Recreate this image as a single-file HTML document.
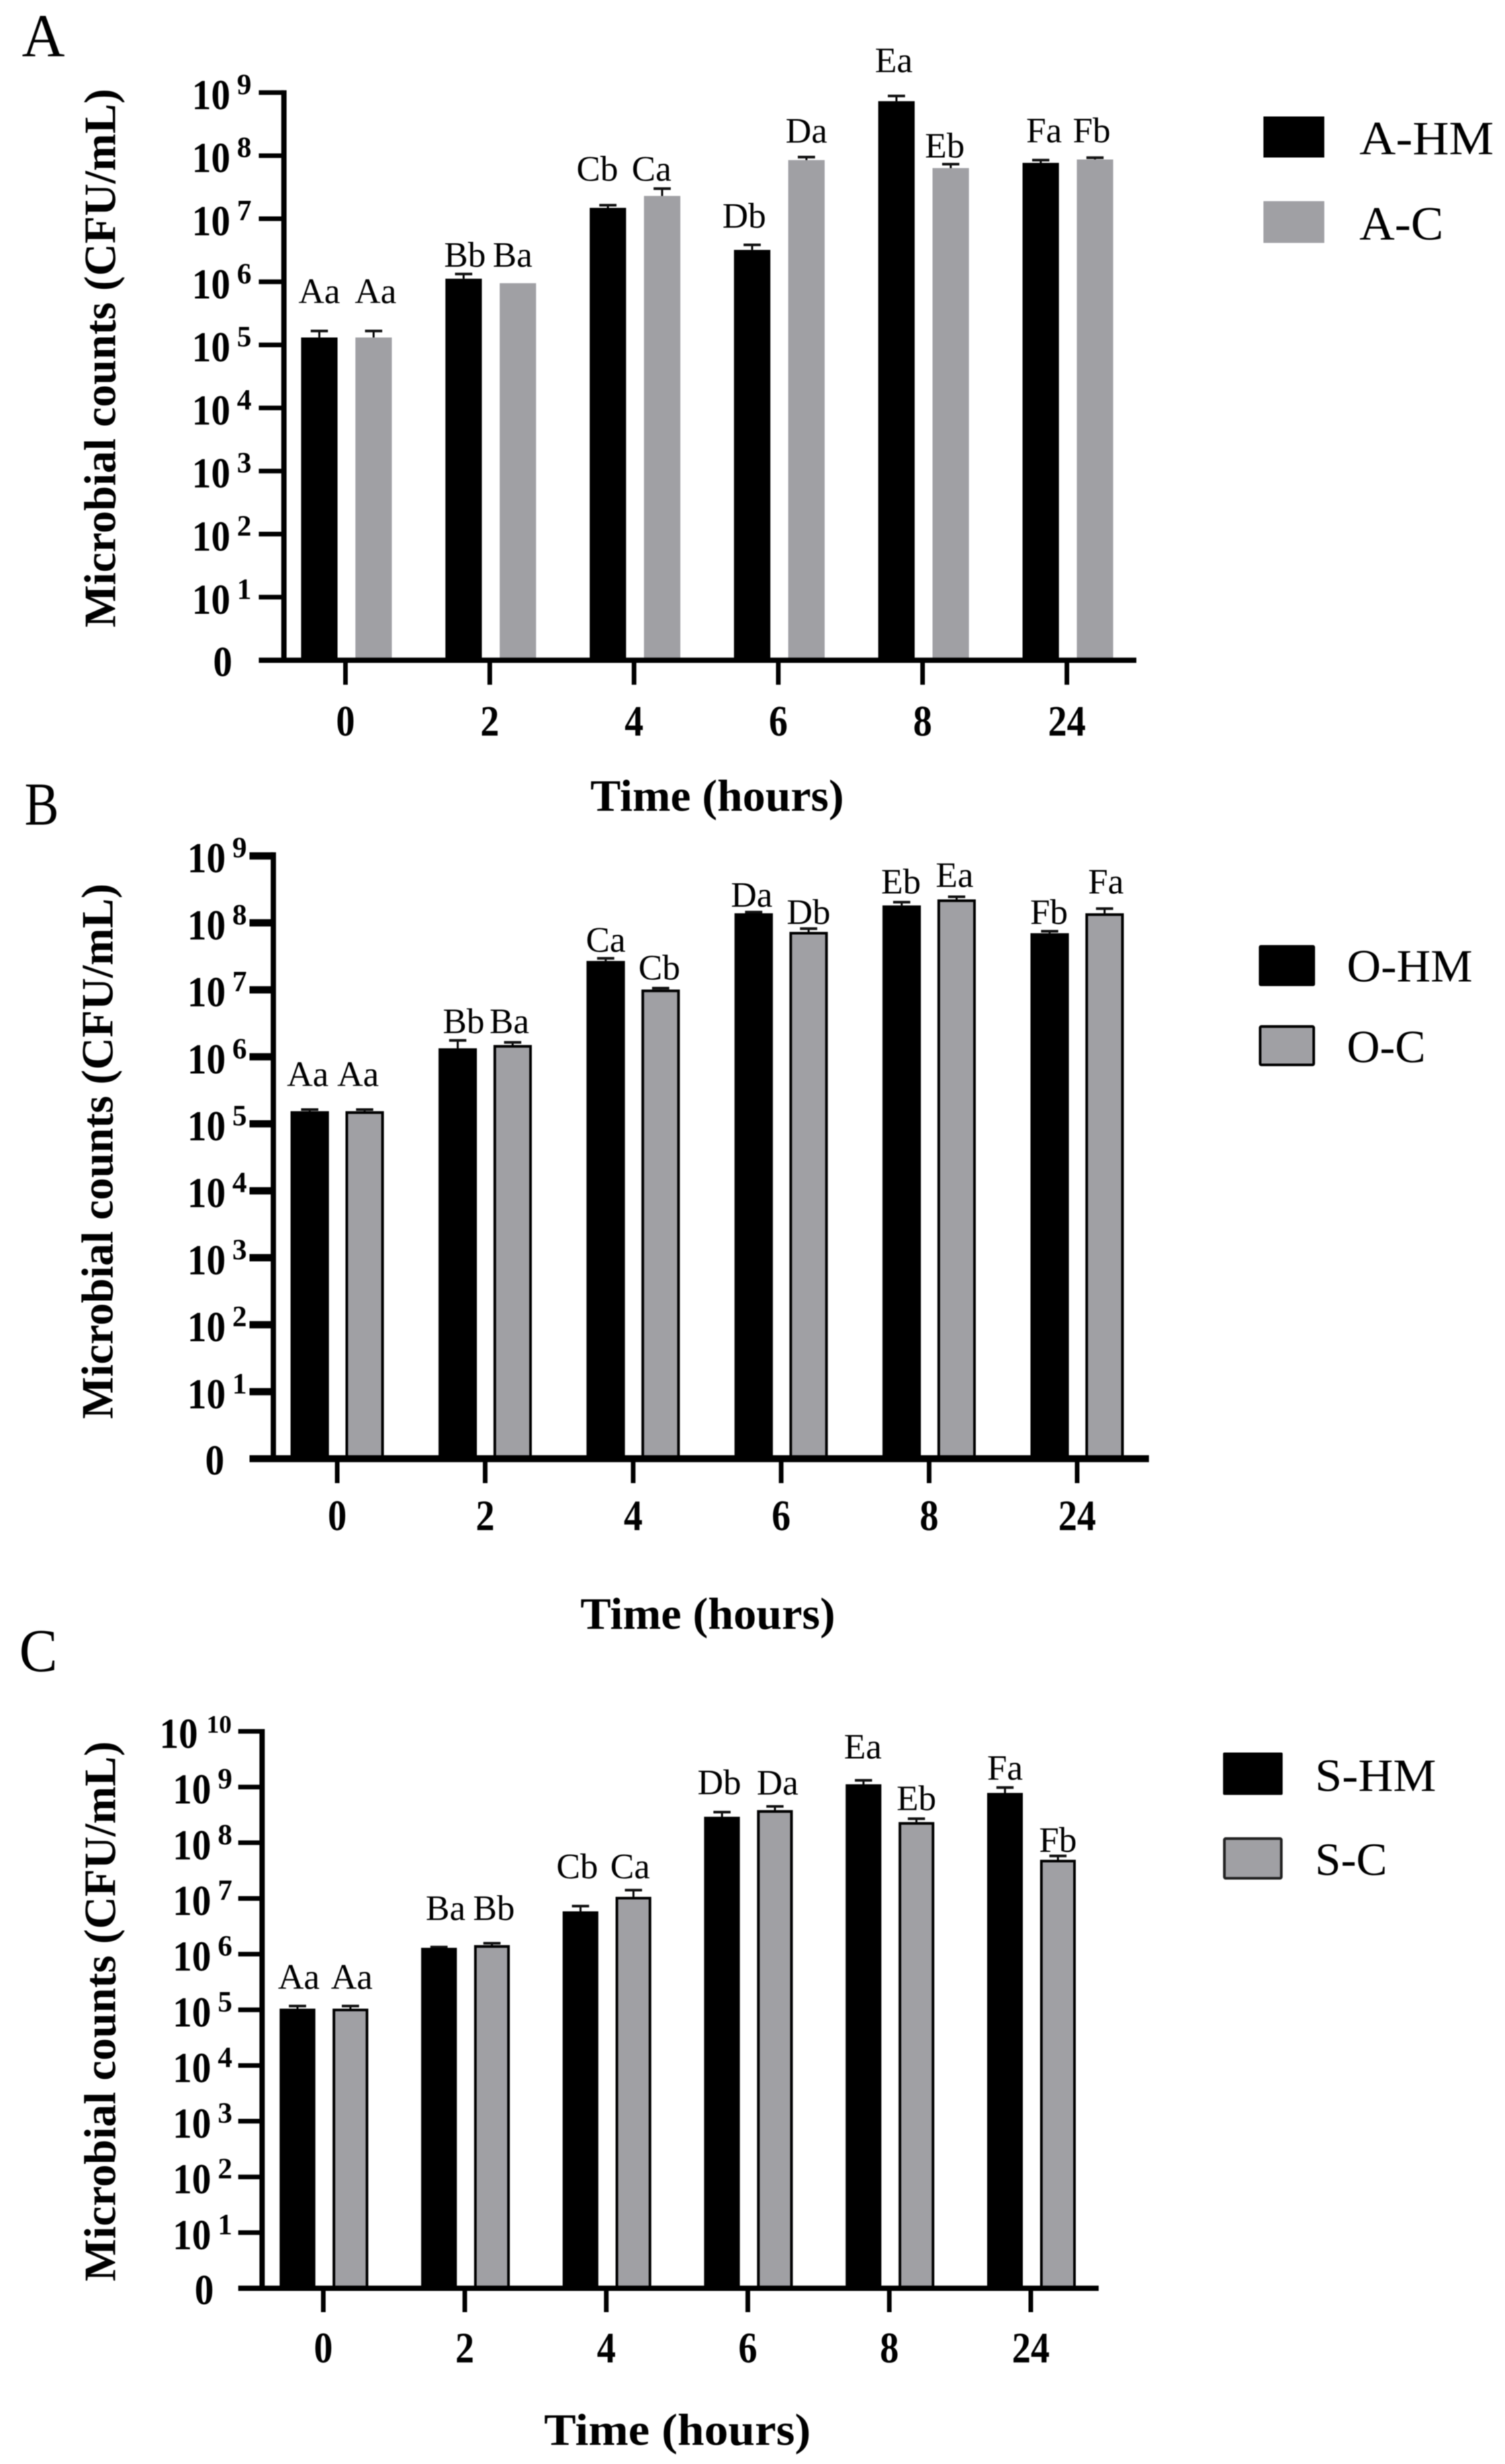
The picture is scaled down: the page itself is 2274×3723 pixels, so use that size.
<!DOCTYPE html>
<html lang="en">
<head>
<meta charset="utf-8">
<title>Microbial counts over time</title>
<style>
html,body{margin:0;padding:0;background:#fff;width:2274px;height:3723px;overflow:hidden}
svg{display:block;filter:blur(.7px)}
text{font-family:"Liberation Serif","DejaVu Serif",serif;fill:#000}
.b{font-weight:bold}
</style>
</head>
<body>
<svg id="figure" xmlns="http://www.w3.org/2000/svg" width="2274" height="3723" viewBox="0 0 2274 3723">
<rect width="2274" height="3723" fill="#fff"/>

<g id="panel-a">
<text x="33" y="85" font-size="92" textLength="65" lengthAdjust="spacingAndGlyphs">A</text>
<text class="b" transform="translate(174,948) rotate(-90)" font-size="68" textLength="814" lengthAdjust="spacingAndGlyphs">Microbial counts (CFU/mL)</text>
<text class="b" x="892" y="1225" font-size="68" textLength="383" lengthAdjust="spacingAndGlyphs">Time (hours)</text>
<rect x="1909" y="176" width="92" height="62" fill="#000"/>
<text x="2054" y="233" font-size="72" textLength="203" lengthAdjust="spacingAndGlyphs">A-HM</text>
<rect x="1909" y="304" width="92" height="63" fill="#a0a0a4"/>
<text x="2054" y="362" font-size="72" textLength="127" lengthAdjust="spacingAndGlyphs">A-C</text>
</g>

<g id="panel-b">
<text x="37" y="1246" font-size="92" textLength="52" lengthAdjust="spacingAndGlyphs">B</text>
<text class="b" transform="translate(170,2144) rotate(-90)" font-size="68" textLength="809" lengthAdjust="spacingAndGlyphs">Microbial counts (CFU/mL)</text>
<text class="b" x="877" y="2461" font-size="68" textLength="385" lengthAdjust="spacingAndGlyphs">Time (hours)</text>
<rect x="1902" y="1428" width="85" height="62" rx="3" fill="#000"/>
<text x="2035" y="1483" font-size="70" textLength="190" lengthAdjust="spacingAndGlyphs">O-HM</text>
<rect x="1904" y="1551" width="81" height="58" rx="2" fill="#a0a0a4" stroke="#000" stroke-width="4"/>
<text x="2035" y="1605" font-size="70" textLength="119" lengthAdjust="spacingAndGlyphs">O-C</text>
</g>

<g id="panel-c">
<text x="29" y="2525" font-size="92" textLength="58" lengthAdjust="spacingAndGlyphs">C</text>
<text class="b" transform="translate(174,3447) rotate(-90)" font-size="68" textLength="816" lengthAdjust="spacingAndGlyphs">Microbial counts (CFU/mL)</text>
<text class="b" x="822" y="3694" font-size="68" textLength="403" lengthAdjust="spacingAndGlyphs">Time (hours)</text>
<rect x="1848" y="2648" width="90" height="64" rx="2" fill="#000"/>
<text x="1987" y="2706" font-size="70" textLength="183" lengthAdjust="spacingAndGlyphs">S-HM</text>
<rect x="1850" y="2778" width="86" height="60" rx="2" fill="#a0a0a4" stroke="#222" stroke-width="4"/>
<text x="1987" y="2833" font-size="70" textLength="109" lengthAdjust="spacingAndGlyphs">S-C</text>
</g>
</svg>

<script>
const categories = ["0", "2", "4", "6", "8", "24"];

const aExponents = [1, 2, 3, 4, 5, 6, 7, 8, 9];
const aHM      = [1.31e5, 1.12e6, 1.49e7, 3.2e6, 7.3e8, 7.7e7];
const aHMUpper = [1.66e5, 1.33e6, 1.64e7, 3.85e6, 8.85e8, 8.5e7];
const aC       = [1.31e5, 0.95e6, 2.3e7, 8.5e7, 6.35e7, 8.7e7];
const aCUpper  = [1.66e5, 0.95e6, 3.0e7, 9.5e7, 7.35e7, 9.3e7];
const aHMLetters = ["Aa", "Bb", "Cb", "Db", "Ea", "Fa"];
const aCLetters  = ["Aa", "Ba", "Ca", "Da", "Eb", "Fb"];

const bExponents = [1, 2, 3, 4, 5, 6, 7, 8, 9];
const bHM      = [1.54e5, 1.34e6, 2.7e7, 1.39e8, 1.82e8, 7.0e7];
const bHMUpper = [1.63e5, 1.76e6, 2.95e7, 1.45e8, 2.04e8, 7.5e7];
const bC       = [1.54e5, 1.5e6, 1.01e7, 7.34e7, 2.24e8, 1.39e8];
const bCUpper  = [1.63e5, 1.64e6, 1.06e7, 8.2e7, 2.45e8, 1.63e8];
const bHMLetters = ["Aa", "Bb", "Ca", "Da", "Eb", "Fb"];
const bCLetters  = ["Aa", "Ba", "Cb", "Db", "Ea", "Fa"];

const cExponents = [1, 2, 3, 4, 5, 6, 7, 8, 9, 10];
const cHM      = [1.05e5, 1.3e6, 5.86e6, 2.93e8, 1.12e9, 7.85e8];
const cHMUpper = [1.17e5, 1.34e6, 7.3e6, 3.55e8, 1.32e9, 9.8e8];
const cC       = [1.05e5, 1.45e6, 1.07e7, 3.85e8, 2.35e8, 4.95e7];
const cCUpper  = [1.17e5, 1.57e6, 1.41e7, 4.5e8, 2.7e8, 5.8e7];
const cHMLetters = ["Aa", "Ba", "Cb", "Db", "Ea", "Fa"];
const cCLetters  = ["Aa", "Bb", "Ca", "Da", "Eb", "Fb"];

const NS = "http://www.w3.org/2000/svg";
function mk(tag, parent, props) {
  const node = document.createElementNS(NS, tag);
  for (const k in props) node.setAttribute(k, props[k]);
  parent.appendChild(node);
  return node;
}

function drawPanel(id, series, L) {
  const g = document.getElementById("panel-" + id);
  const yScale = v => L.y0 - L.decade * Math.log10(v);
  const xScale = i => L.x0 + L.step * i;

  function drawSeries(key, values, uppers, letters, sign, fill, stroke, lifts, shifts) {
    values.forEach((v, i) => {
      const cx = xScale(i) + sign * L.offset;
      const top = yScale(v);
      const capY = yScale(uppers[i]);

      if (uppers[i] > v) {
        const stem = mk("line", g, {x1: cx, x2: cx, y1: top, y2: capY, stroke: "#000", "stroke-width": 3});
        
        

        const cap = mk("line", g, {x1: cx - 13, x2: cx + 13, y1: capY, y2: capY, stroke: "#111", "stroke-width": 4});
        
        
      }

      const inset = stroke ? 2 : 0;
      const bar = mk("rect", g, {
        x: cx - L.barW / 2 + inset, y: top + inset,
        width: L.barW - 2 * inset, height: L.y0 - top - inset,
        fill: fill, stroke: stroke ? "#000" : "none", "stroke-width": stroke ? 4 : 0
      });
      
      

      const label = mk("text", g, {x: cx + shifts[i], y: capY - lifts[i], "font-size": 54, "text-anchor": "middle"});
      label.textContent = letters[i];
      
      
    });
  }

  drawSeries(series.hmKey, series.hm, series.hmUpper, series.hmLetters, -1, "#000", false, L.liftHM, L.shiftHM);
  drawSeries(series.cKey, series.c, series.cUpper, series.cLetters, 1, "#a0a0a4", L.outlined, L.liftC, L.shiftC);

  const topExp = series.exponents[series.exponents.length - 1];

  const yAxis = mk("line", g, {x1: L.axisX, x2: L.axisX, y1: yScale(Math.pow(10, topExp)) - L.tickW / 2, y2: L.y0, stroke: "#000", "stroke-width": 8});
  
  

  const xAxis = mk("line", g, {x1: L.tickX, x2: L.axisEnd, y1: L.y0, y2: L.y0, stroke: "#000", "stroke-width": L.baseW});
  
  

  series.exponents.forEach(e => {
    const y = yScale(Math.pow(10, e));
    const wide = String(e).length > 1;

    const tick = mk("line", g, {x1: L.tickX, x2: L.axisX, y1: y, y2: y, stroke: "#000", "stroke-width": L.tickW});
    
    

    const base = mk("text", g, {x: wide ? L.numX - 20 : L.numX, y: y + 25, "font-size": 65, "class": "b", textLength: 58, lengthAdjust: "spacingAndGlyphs"});
    base.textContent = "10";
    
    

    const sup = mk("text", g, {x: wide ? L.numX + 51 : L.numX + 68, y: y + 2, "font-size": wide ? 38 : 44, "class": "b", textLength: wide ? 38 : 22, lengthAdjust: "spacingAndGlyphs"});
    sup.textContent = String(e);
    
    
  });

  const zero = mk("text", g, {x: L.zeroX, y: L.y0 + 24, "font-size": 65, "class": "b", textLength: 29, lengthAdjust: "spacingAndGlyphs"});
  zero.textContent = "0";
  
  

  categories.forEach((c, i) => {
    const x = xScale(i) + L.xTickShift;
    const tick = mk("line", g, {x1: x, x2: x, y1: L.y0, y2: L.y0 + L.xTickLen, stroke: "#000", "stroke-width": 7});
    
    

    const label = mk("text", g, {x: x, y: L.y0 + L.xLabelDy, "font-size": 66, "text-anchor": "middle", "class": "b", textLength: c.length * 28.5, lengthAdjust: "spacingAndGlyphs"});
    label.textContent = c;
    
    
  });
}

drawPanel("a",
  {hmKey: "a-hm", cKey: "a-c", hm: aHM, hmUpper: aHMUpper, c: aC, cUpper: aCUpper,
   hmLetters: aHMLetters, cLetters: aCLetters, exponents: aExponents},
  {y0: 997.6, decade: 95.3, x0: 523.5, step: 218, offset: 41, barW: 55, axisX: 429, tickX: 391,
   axisEnd: 1717, numX: 290, zeroX: 322, tickW: 7, baseW: 8, xTickShift: -1.5, xTickLen: 37, xLabelDy: 114,
   outlined: false,
   liftHM: [42, 11, 37, 26, 36, 27], liftC: [42, 25, 12, 22, 10, 23],
   shiftHM: [0, 2, -16, -12, -4, 5], shiftC: [3, -8, -16, 0, -9, -5]});

drawPanel("b",
  {hmKey: "o-hm", cKey: "o-c", hm: bHM, hmUpper: bHMUpper, c: bC, cUpper: bCUpper,
   hmLetters: bHMLetters, cLetters: bCLetters, exponents: bExponents},
  {y0: 2204, decade: 101.2, x0: 509.5, step: 223.6, offset: 41.5, barW: 58, axisX: 413, tickX: 377,
   axisEnd: 1736, numX: 283, zeroX: 310, tickW: 11, baseW: 10.5, xTickShift: 0, xTickLen: 37, xLabelDy: 108,
   outlined: true,
   liftHM: [35.5, 11, 10, 8, 13, 11], liftC: [35.5, 14, 13, 7, 15, 23],
   shiftHM: [-3, 9, 0, -3, -1, -1], shiftC: [-10, -5, -2, 0, -3, 2]});

drawPanel("c",
  {hmKey: "s-hm", cKey: "s-c", hm: cHM, hmUpper: cHMUpper, c: cC, cUpper: cCUpper,
   hmLetters: cHMLetters, cLetters: cCLetters, exponents: cExponents},
  {y0: 3457.5, decade: 84.15, x0: 489.5, step: 213.8, offset: 40, barW: 54, axisX: 396, tickX: 360,
   axisEnd: 1660, numX: 261, zeroX: 294, tickW: 7, baseW: 8, xTickShift: -1, xTickLen: 36, xLabelDy: 112,
   outlined: true,
   liftHM: [26, 41, 42, 27, 33, 12], liftC: [26, 35, 18, 18, 13, 6],
   shiftHM: [2, 10, -5, -4, -1, 0], shiftC: [2, 3, -5, 4, 0, 0]});
</script>
</body>
</html>
